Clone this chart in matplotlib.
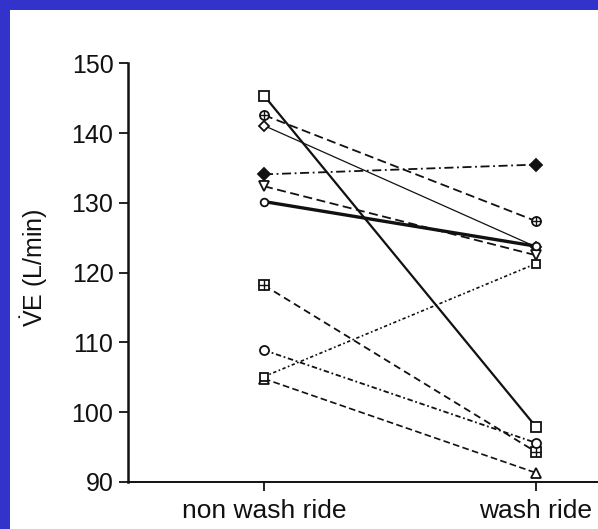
import matplotlib
matplotlib.use("Agg")
import matplotlib.pyplot as plt
from matplotlib.patches import Rectangle

plt.rcParams['font.family'] = ['Liberation Sans', 'DejaVu Sans']
plt.rcParams['mathtext.fontset'] = 'custom'
plt.rcParams['mathtext.rm'] = 'Liberation Sans'

# minute ventilation per rider, non wash ride vs wash ride
conditions = ["non wash ride", "wash ride"]
sq_open = [145.4, 97.9]
circ_plus = [142.6, 127.4]
diam_open = [141.1, 123.7]
diam_filled = [134.1, 135.5]
tri_down = [132.4, 122.5]
circ_bold = [130.2, 123.8]
box_plus = [118.2, 94.3]
circ_open = [108.9, 95.6]
tri_up = [104.8, 91.3]
sq_dot = [105.1, 121.3]

ink = "#111111"
x = [0, 1]

fig = plt.figure(figsize=(5.98, 5.29), dpi=100)
fig.patch.set_facecolor("white")
ax = fig.add_axes([0.214, 0.089, 0.786, 0.791])

def subject(vals, marker, ls, lw, ms=7, filled=False, overlay=None):
    ax.plot(x, vals, color=ink, linestyle=ls, linewidth=lw, marker=marker,
            markersize=ms, markerfacecolor=ink if filled else "white",
            markeredgecolor=ink, markeredgewidth=1.3, clip_on=False, zorder=3)
    if overlay:
        ax.plot(x, vals, linestyle="none", marker=overlay, markersize=ms,
                markeredgecolor=ink, markeredgewidth=1.0, clip_on=False, zorder=4)

subject(sq_open, "s", "-", 1.6)
subject(circ_plus, "o", (0, (5, 2.5)), 1.3, ms=6.5, overlay="+")
subject(diam_open, "D", "-", 0.9, ms=5.5)
subject(diam_filled, "D", (0, (5, 2, 1, 2)), 1.3, ms=6, filled=True)
subject(tri_down, "v", (0, (5, 2.5)), 1.3, ms=6.5)
subject(circ_bold, "o", "-", 2.4, ms=5.5)
subject(box_plus, "s", (0, (4, 2.5)), 1.3, ms=6.5, overlay="+")
subject(circ_open, "o", (0, (3, 1.5, 1, 1.5)), 1.3, ms=6.5)
subject(tri_up, "^", (0, (4, 2)), 1.2, ms=7)
subject(sq_dot, "s", (0, (2, 1.5, 1, 1.5)), 1.2, ms=6)

ax.set_xlim(-0.5, 1.228)
ax.set_ylim(90, 150)
ax.set_yticks([90, 100, 110, 120, 130, 140, 150])
ax.set_xticks(x)
ax.set_xticklabels(conditions)

for side in ["top", "right"]:
    ax.spines[side].set_visible(False)
ax.spines["left"].set_linewidth(1.8)
ax.spines["bottom"].set_linewidth(1.4)
ax.spines["left"].set_color(ink)
ax.spines["bottom"].set_color(ink)

ax.tick_params(axis="y", direction="out", length=6.5, width=1.3, pad=4,
               labelsize=18, colors=ink)
ax.tick_params(axis="x", direction="out", length=6.5, width=1.3, pad=6,
               labelsize=19, colors=ink)

ax.set_ylabel(r"$\dot{\mathrm{V}}\mathrm{E}$ (L/min)", fontsize=18, color=ink)
ax.yaxis.set_label_coords(-0.166, 0.513)

# blue slide frame along top and left edges
fig.patches.append(Rectangle((0, 1 - 10 / 529), 1, 10 / 529, transform=fig.transFigure,
                             facecolor="#3333cc", edgecolor="none", zorder=10))
fig.patches.append(Rectangle((0, 0), 10 / 598, 1, transform=fig.transFigure,
                             facecolor="#3333cc", edgecolor="none", zorder=10))

fig.savefig("out.png", dpi=100)
